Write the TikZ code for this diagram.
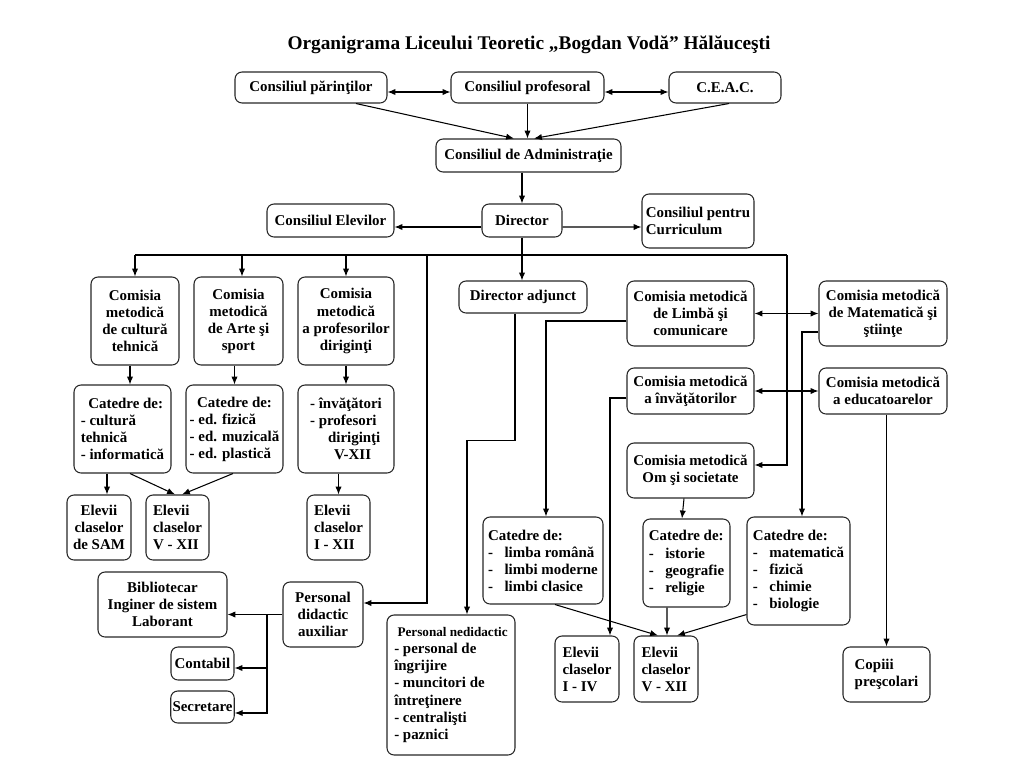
\documentclass[tikz,border=0pt]{standalone}
\usepackage{fontspec}
\setmainfont{Liberation Serif}
\usetikzlibrary{arrows.meta}
\newcommand\itm{\makebox[1.1em][l]{-}}
\begin{document}
\begin{tikzpicture}[x=0.02cm,y=-0.02cm,
  box/.style={draw=black!85, rounded corners=4pt, align=center, inner sep=1pt, line width=0.6pt, font=\bfseries\fontsize{8.5}{9.7}\selectfont},
  lbox/.style={box, align=left},
  >={Latex[length=4.5pt,width=3.6pt]}]
\useasboundingbox (0,0) rectangle (1034,774);
\node[font=\bfseries\fontsize{11}{13}\selectfont] (0) at (529,45) {Organigrama Liceului Teoretic „Bogdan Vodă” Hălăuceşti};
\node[box, minimum width=3.04cm, minimum height=0.62cm] (1) at (311,87.5) {Consiliul părinţilor};
\node[box, minimum width=3.06cm, minimum height=0.62cm] (2) at (527.5,87.5) {Consiliul profesoral};
\node[box, minimum width=2.24cm, minimum height=0.62cm] (3) at (725,87.5) {C.E.A.C.};
\node[box, minimum width=3.7cm, minimum height=0.66cm] (4) at (528.5,155.5) {Consiliul de Administraţie};
\node[box, minimum width=2.54cm, minimum height=0.66cm] (5) at (330.5,220.5) {Consiliul Elevilor};
\node[box, minimum width=1.6cm, minimum height=0.66cm] (6) at (522,220.5) {Director};
\node[lbox, minimum width=2.24cm, minimum height=1.08cm] (7) at (698,221) {Consiliul pentru\\Curriculum};
\node[box, minimum width=1.76cm, minimum height=1.76cm] (8) at (135,321) {Comisia\\metodică\\de cultură\\tehnică};
\node[box, minimum width=1.78cm, minimum height=1.76cm] (9) at (238.5,321) {Comisia\\metodică\\de Arte şi\\sport};
\node[box, minimum width=1.92cm, minimum height=1.76cm] (10) at (346,321) {Comisia\\metodică\\a profesorilor\\diriginţi};
\node[lbox, minimum width=1.94cm, minimum height=1.76cm] (11) at (122.5,429) {\ \ Catedre de:\\- cultură\\tehnică\\- informatică};
\node[lbox, minimum width=1.94cm, minimum height=1.76cm] (12) at (234.5,429) {\ \ Catedre de:\\- ed. fizică\\- ed. muzicală\\- ed. plastică};
\node[lbox, minimum width=1.92cm, minimum height=1.76cm] (13) at (346,429) {- învăţători\\- profesori\\\hspace{1.2em}diriginţi\\\hspace{1.6em}V-XII};
\node[box, minimum width=1.28cm, minimum height=1.3cm] (14) at (99,527.5) {Elevii\\claselor\\de SAM};
\node[lbox, minimum width=1.26cm, minimum height=1.3cm] (15) at (177.5,527.5) {Elevii\\claselor\\V - XII};
\node[lbox, minimum width=1.26cm, minimum height=1.3cm] (16) at (338.5,527.5) {Elevii\\claselor\\I - XII};
\node[box, minimum width=2.56cm, minimum height=0.64cm] (17) at (523,297) {Director adjunct};
\node[box, minimum width=2.54cm, minimum height=1.3cm] (18) at (690.5,313.5) {Comisia metodică\\de Limbă şi\\comunicare};
\node[box, minimum width=2.56cm, minimum height=1.3cm] (19) at (883,313.5) {Comisia metodică\\de Matematică şi\\ştiinţe};
\node[box, minimum width=2.54cm, minimum height=0.92cm] (20) at (690.5,391) {Comisia metodică\\a învăţătorilor};
\node[box, minimum width=2.56cm, minimum height=0.92cm] (21) at (883,391) {Comisia metodică\\a educatoarelor};
\node[box, minimum width=2.54cm, minimum height=1.1cm] (22) at (690.5,470.5) {Comisia metodică\\Om şi societate};
\node[lbox, minimum width=2.4cm, minimum height=1.74cm] (23) at (543,560.5) {Catedre de:\\\itm limba română\\\itm limbi moderne\\\itm limbi clasice};
\node[lbox, minimum width=1.74cm, minimum height=1.76cm] (24) at (686.5,563) {Catedre de:\\\itm istorie\\\itm geografie\\\itm religie};
\node[lbox, minimum width=2.06cm, minimum height=2.16cm] (25) at (798.5,571) {Catedre de:\\\itm matematică\\\itm fizică\\\itm chimie\\\itm biologie};
\node[lbox, minimum width=1.28cm, minimum height=1.32cm] (26) at (587,669) {Elevii\\claselor\\I - IV};
\node[lbox, minimum width=1.28cm, minimum height=1.32cm] (27) at (666,669) {Elevii\\claselor\\V - XII};
\node[lbox, minimum width=1.74cm, minimum height=1.1cm] (28) at (886.5,674.5) {Copiii\\preşcolari};
\node[box, minimum width=2.58cm, minimum height=1.3cm] (29) at (162.5,604.5) {Bibliotecar\\Inginer de sistem\\Laborant};
\node[box, minimum width=1.6cm, minimum height=1.3cm] (30) at (323,614.5) {Personal\\didactic\\auxiliar};
\node[box, minimum width=1.26cm, minimum height=0.66cm] (31) at (202.5,663.5) {Contabil};
\node[box, minimum width=1.26cm, minimum height=0.64cm] (32) at (202.5,707) {Secretare};
\node[lbox, minimum width=2.56cm, minimum height=2.8cm] (33) at (451,685) {{\fontsize{7.5}{9.7}\selectfont\ Personal nedidactic}\\- personal de\\îngrijire\\- muncitori de\\întreţinere\\- centralişti\\- paznici};
\coordinate (b1) at (135,255);
\coordinate (b2) at (787,255);
\coordinate (b3) at (427,255);
\coordinate (a1) at (267,614.5);
\path[draw,line width=0.6pt,<->] ([yshift=-0.09cm]1.east) -- ([yshift=-0.09cm]2.west);
\path[draw,line width=0.6pt,<->] ([yshift=-0.09cm]2.east) -- ([yshift=-0.09cm]3.west);
\path[draw,line width=0.6pt,->] ([xshift=0.9cm]1.south) -- ([xshift=-0.29cm]4.north);
\path[draw,line width=0.6pt,->] (2.south) -- (2.south |- 4.north);
\path[draw,line width=0.6pt,->] ([xshift=0.08cm]3.south) -- ([xshift=0.11cm]4.north);
\path[draw,line width=0.6pt,->] (6.north |- 4.south) -- (6.north);
\path[draw,line width=0.6pt,->] ([yshift=-0.13cm]6.west) -- ([yshift=-0.13cm]5.east);
\path[draw,line width=0.6pt,->] ([yshift=-0.13cm]6.east) -- ([yshift=-0.12cm]7.west);
\path[draw,line width=0.6pt,->] (6.south) -- (6.south |- 17.north);
\path[draw,line width=0.6pt,-] (b1) -- (b2);
\path[draw,line width=0.6pt,->] (8.north |- b1) -- (8.north);
\path[draw,line width=0.6pt,->] ([xshift=0.07cm]9.north |- b1) -- ([xshift=0.07cm]9.north);
\path[draw,line width=0.6pt,->] (10.north |- b1) -- (10.north);
\path[draw,line width=0.6pt,->] (b3) |- ([yshift=0.23cm]30.east);
\path[draw,line width=0.6pt,->] (b2) |- ([yshift=0.11cm]22.east);
\path[draw,line width=0.6pt,->] ([xshift=0.15cm]11.north |- 8.south) -- ([xshift=0.15cm]11.north);
\path[draw,line width=0.6pt,->] (12.north |- 9.south) -- (12.north);
\path[draw,line width=0.6pt,->] (13.north |- 10.south) -- (13.north);
\path[draw,line width=0.6pt,->] ([xshift=0.16cm]14.north |- 11.south) -- ([xshift=0.16cm]14.north);
\path[draw,line width=0.6pt,->] ([xshift=0.15cm]11.south) -- ([xshift=-0.05cm]15.north);
\path[draw,line width=0.6pt,->] ([xshift=-0.03cm]12.south) -- ([xshift=0.09cm]15.north);
\path[draw,line width=0.6pt,->] (16.north |- 13.south) -- (16.north);
\path[draw,line width=0.6pt,->] ([xshift=-0.16cm]17.south) -- ++(0,127) -| ([xshift=0.32cm]33.north);
\path[draw,line width=0.6pt,->] ([yshift=-0.15cm]18.west) -| ([xshift=0.06cm]23.north);
\path[draw,line width=0.6pt,->] ([yshift=-0.14cm]20.west) -| ([xshift=0.46cm]26.north);
\path[draw,line width=0.6pt,->] ([yshift=-0.37cm]19.west) -| ([xshift=0.07cm]25.north);
\path[draw,line width=0.6pt,<->] (18.east) -- (19.west);
\path[draw,line width=0.6pt,<->] (20.east) -- (21.west);
\path[draw,line width=0.6pt,->] (28.north |- 21.south) -- (28.north);
\path[draw,line width=0.6pt,->] ([xshift=-0.13cm]22.south) -- ([xshift=-0.09cm]24.north);
\path[draw,line width=0.6pt,->] ([xshift=-0.39cm]24.south) -- ([xshift=0.02cm]27.north);
\path[draw,line width=0.6pt,->] ([xshift=0.24cm]23.south) -- ([xshift=-0.16cm]27.north);
\path[draw,line width=0.6pt,->] ([yshift=0.22cm]25.south west) -- ([xshift=0.22cm]27.north);
\path[draw,line width=0.6pt,->] (30.west) -- (30.west -| 29.east);
\path[draw,line width=0.6pt,->] (a1) |- ([yshift=-0.09cm]31.east);
\path[draw,line width=0.6pt,->] (a1) |- ([yshift=-0.12cm]32.east);
\end{tikzpicture}
\end{document}
